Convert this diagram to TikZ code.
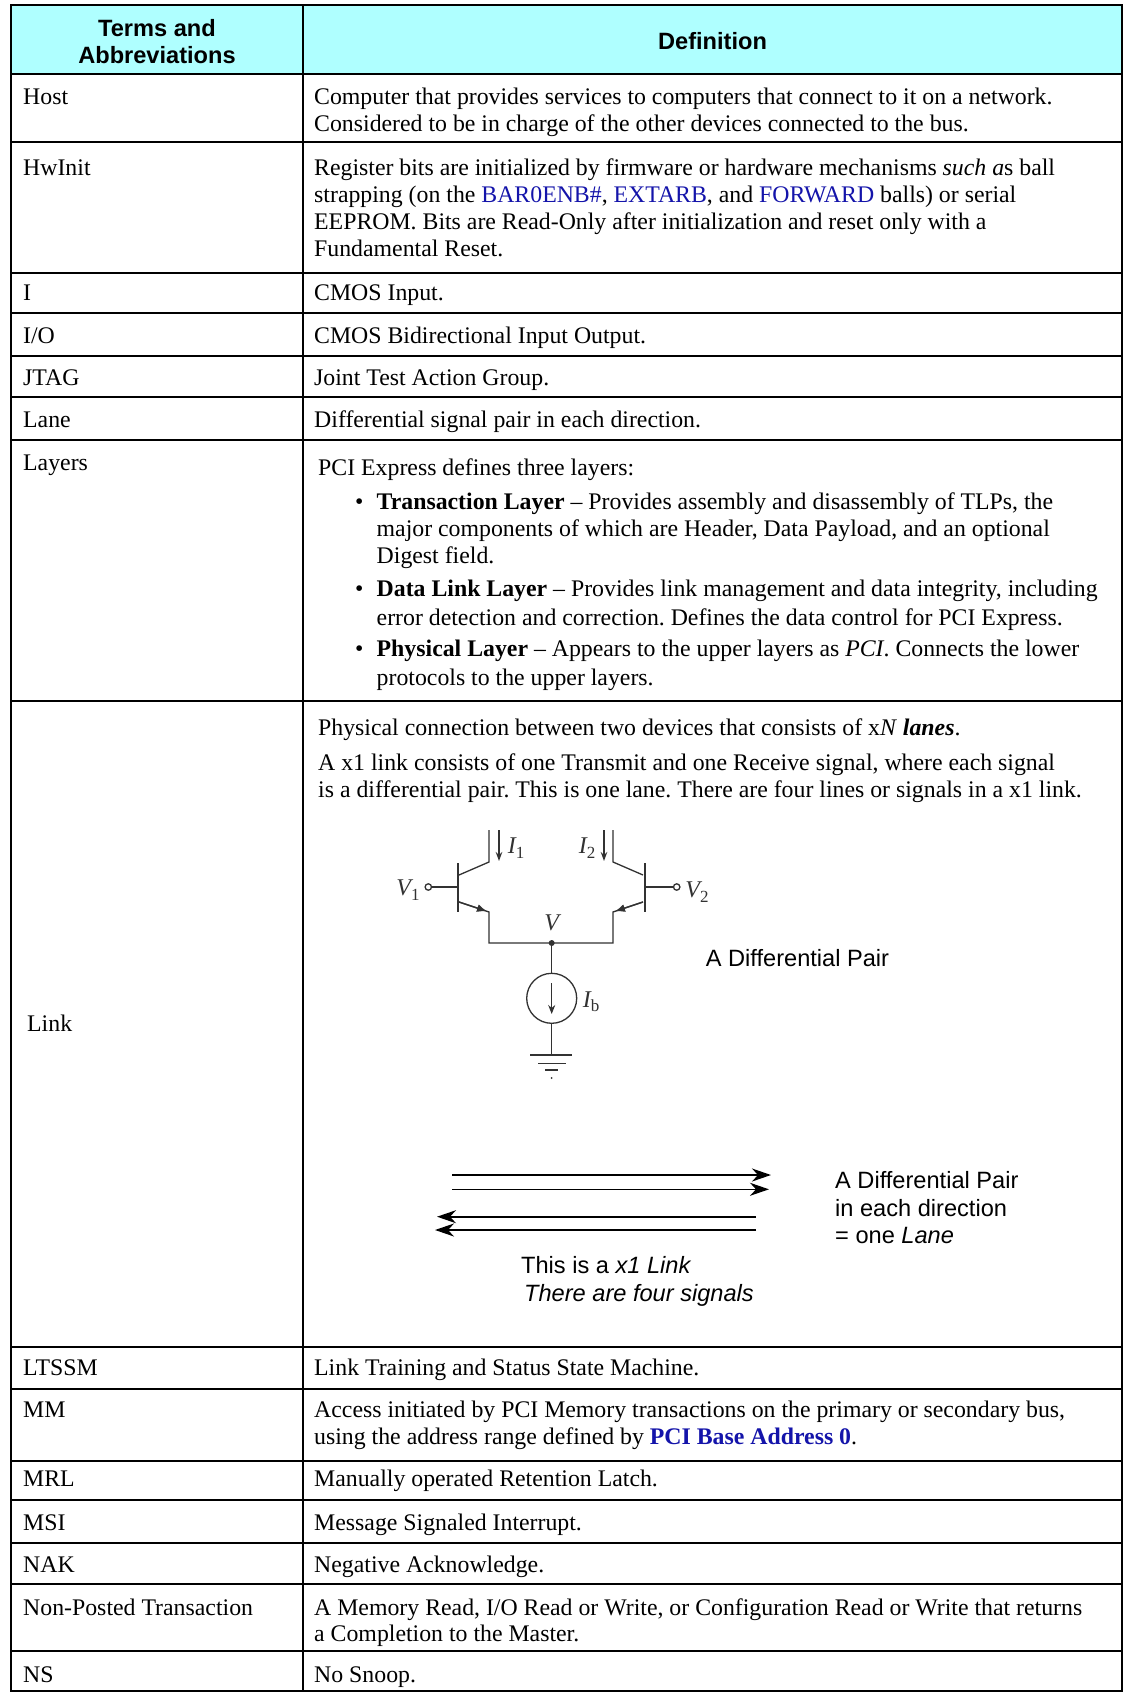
\documentclass[tikz,border=0pt]{standalone}
\usepackage{fontspec}
\setmainfont{Liberation Serif}
\setsansfont{Liberation Sans}
\usetikzlibrary{arrows.meta}
\definecolor{hdr}{RGB}{175,255,255}
\definecolor{lnk}{RGB}{20,20,170}
\definecolor{cir}{RGB}{50,50,50}
\newcommand{\bodyfont}{\frenchspacing\fontsize{23.8}{27}\selectfont}
\newcommand{\hdrfont}{\sffamily\bfseries\fontsize{23.6}{27}\selectfont}
\newcommand{\lblfont}{\frenchspacing\sffamily\fontsize{23.6}{27}\selectfont}
\newcommand{\lowsub}[1]{\raisebox{-0.18em}{\upshape\fontsize{17}{17}\selectfont #1}}
\begin{document}
\frenchspacing
\begin{tikzpicture}[x=1pt,y=-1pt,
  txt/.style={anchor=base west, inner sep=0pt, font=\bodyfont, yshift=-2.2pt},
  hd/.style={anchor=base, inner sep=0pt, font=\hdrfont, yshift=-1.5pt},
  lbl/.style={anchor=base west, inner sep=0pt, font=\lblfont, yshift=-2pt},
  gridline/.style={line width=1.3pt, black},
  wire/.style={line width=1.3pt, cir},
  bar/.style={line width=2.2pt, cir},
  sig/.style={line width=1.6pt, black, -{Stealth[length=19pt,width=13pt,inset=6pt]}},
  cl/.style={inner sep=0pt, font=\fontsize{24}{26}\selectfont\itshape, text=cir}]
\useasboundingbox (0,0) rectangle (1123,1692);
\fill[white] (0,0) rectangle (1123,1692);
% header
\fill[hdr] (11,5) rectangle (1122,74);
% grid
\draw[gridline] (11,5) rectangle (1122,1691);
\draw[gridline] (303,5) -- (303,1691);
\foreach \yy in {74,142,273,313,356,397,440,701,1347,1389,1461,1500,1543,1584,1651}
  \draw[gridline] (11,\yy) -- (1122,\yy);
% header text
\node[hd] (h1) at (157,34.5) {Terms and};
\node[hd] (h2) at (157,61.5) {Abbreviations};
\node[hd] (h3) at (712.5,47.5) {Definition};
% Host
\node[txt] (a1) at (23,102.5) {Host};
\node[txt] (b1) at (314,102.5) {Computer that provides services to computers that connect to it on a network.};
\node[txt] (b2) at (314,129.5) {Considered to be in charge of the other devices connected to the bus.};
% HwInit
\node[txt] (a2) at (23,173.7) {HwInit};
\node[txt] (b3) at (314,173.7) {Register bits are initialized by firmware or hardware mechanisms \textit{such a}s ball};
\node[txt] (b4) at (314,200.7) {strapping (on the \textcolor{lnk}{BAR0ENB\#}, \textcolor{lnk}{EXTARB}, and \textcolor{lnk}{FORWARD} balls) or serial};
\node[txt] (b5) at (314,227.7) {EEPROM. Bits are Read-Only after initialization and reset only with a};
\node[txt] (b6) at (314,254.7) {Fundamental Reset.};
% I, I/O, JTAG, Lane
\node[txt] (a3) at (23,297.8) {I};
\node[txt] (b7) at (314,297.8) {CMOS Input.};
\node[txt] (a4) at (23,341) {I/O};
\node[txt] (b8) at (314,341) {CMOS Bidirectional Input Output.};
\node[txt] (a5) at (23,383) {JTAG};
\node[txt] (b9) at (314,383) {Joint Test Action Group.};
\node[txt] (a6) at (23,425) {Lane};
\node[txt] (b10) at (314,425) {Differential signal pair in each direction.};
% Layers
\node[txt] (a7) at (23,468.3) {Layers};
\node[txt] (c1) at (318,473.7) {PCI Express defines three layers:};
\node[txt] (d1) at (355,507) {•};
\node[txt] (d2) at (355,594.5) {•};
\node[txt] (d3) at (355,654) {•};
\node[txt] (c2) at (376.5,507) {\textbf{Transaction Layer} – Provides assembly and disassembly of TLPs, the};
\node[txt] (c3) at (376.5,534) {major components of which are Header, Data Payload, and an optional};
\node[txt] (c4) at (376.5,561) {Digest field.};
\node[txt] (c5) at (376.5,594.5) {\textbf{Data Link Layer} – Provides link management and data integrity, including};
\node[txt] (c6) at (376.5,623.7) {error detection and correction. Defines the data control for PCI Express.};
\node[txt] (c7) at (376.5,654) {\textbf{Physical Layer} – Appears to the upper layers as \textit{PCI}. Connects the lower};
\node[txt] (c8) at (376.5,683) {protocols to the upper layers.};
% Link
\node[txt] (a8) at (27,1029.4) {Link};
\node[txt] (e1) at (318,733.7) {Physical connection between two devices that consists of x\textit{N} \textbf{\textit{lanes}}.};
\node[txt] (e2) at (318,768) {A x1 link consists of one Transmit and one Receive signal, where each signal};
\node[txt] (e3) at (318,795) {is a differential pair. This is one lane. There are four lines or signals in a x1 link.};
% circuit
\draw[wire] (431.3,887) -- (457.7,887);
\draw[wire, fill=white] (428.3,887) circle[radius=3.2];
\draw[bar] (457.7,863) -- (457.7,912);
\draw[wire] (459,875) -- (489,862) -- (489,830);
\draw[wire] (459,902) -- (489,912) -- (489,943) -- (613,943) -- (613,912) -- (643,902);
\draw[wire, -{Latex[length=10pt,width=8pt]}] (459,902) -- (487,911.3);
\draw[wire, -{Latex[length=10pt,width=8pt]}] (643,902) -- (615,911.3);
\draw[wire] (613,830) -- (613,862) -- (643,875);
\draw[bar] (645,863) -- (645,912);
\draw[wire] (645,887) -- (673.5,887);
\draw[wire, fill=white] (676.7,887) circle[radius=3.2];
\draw[wire, -{Stealth[length=9pt,width=6.5pt]}] (499,830) -- (499,861);
\draw[wire, -{Stealth[length=9pt,width=6.5pt]}] (604,830) -- (604,861);
\fill[cir] (551.7,943) circle[radius=3];
\draw[wire] (551.7,943) -- (551.7,973.3);
\draw[wire] (551.7,998.3) circle[radius=25];
\draw[wire, -{Stealth[length=9pt,width=7pt]}] (551.7,983) -- (551.7,1014);
\draw[wire] (551.7,1023.3) -- (551.7,1055);
\draw[wire] (530,1055) -- (572,1055);
\draw[wire] (538,1063.3) -- (566,1063.3);
\draw[wire] (545,1070) -- (558,1070);
\fill[cir] (551.7,1078) circle[radius=1];
\node[cl] (v1) at (408,890) {V\lowsub{1}};
\node[cl] (v2) at (697,892) {V\lowsub{2}};
\node[cl] (i1) at (516,848) {I\lowsub{1}};
\node[cl] (i2) at (587,848) {I\lowsub{2}};
\node[cl] (vv) at (551.7,923) {V};
\node[cl] (ib) at (591,1002) {I\lowsub{b}};
\node[lbl] (p1) at (705.7,964.5) {A Differential Pair};
% signals
\coordinate (s1a) at (452,1175);   \coordinate (s1b) at (771,1175);
\coordinate (s2a) at (452,1189.3); \coordinate (s2b) at (769,1189.3);
\coordinate (s3a) at (756,1216.7); \coordinate (s3b) at (437,1216.7);
\coordinate (s4a) at (756,1230);   \coordinate (s4b) at (435,1230);
\draw[sig] (s1a) -- (s1b);
\draw[sig] (s2a) -- (s2b);
\draw[sig] (s3a) -- (s3b);
\draw[sig] (s4a) -- (s4b);
\node[lbl] (q1) at (835,1186.7) {A Differential Pair};
\node[lbl] (q2) at (835,1214) {in each direction};
\node[lbl] (q3) at (835,1241.7) {= one \textit{Lane}};
\node[lbl] (q4) at (521,1271.7) {This is a \textit{x1 Link}};
\node[lbl] (q5) at (524,1299.3) {\textit{There are four signals}};
% LTSSM and later
\node[txt] (a9) at (23,1373.6) {LTSSM};
\node[txt] (f1) at (314,1373.6) {Link Training and Status State Machine.};
\node[txt] (a10) at (23,1415.7) {MM};
\node[txt] (f2) at (314,1415.7) {Access initiated by PCI Memory transactions on the primary or secondary bus,};
\node[txt] (f3) at (314,1442.6) {using the address range defined by \textcolor{lnk}{\textbf{PCI Base Address 0}}.};
\node[txt] (a11) at (23,1484.7) {MRL};
\node[txt] (f4) at (314,1484.7) {Manually operated Retention Latch.};
\node[txt] (a12) at (23,1528) {MSI};
\node[txt] (f5) at (314,1528) {Message Signaled Interrupt.};
\node[txt] (a13) at (23,1570) {NAK};
\node[txt] (f6) at (314,1570) {Negative Acknowledge.};
\node[txt] (a14) at (23,1613) {Non-Posted Transaction};
\node[txt] (f7) at (314,1613) {A Memory Read, I/O Read or Write, or Configuration Read or Write that returns};
\node[txt] (f8) at (314,1639) {a Completion to the Master.};
\node[txt] (a15) at (23,1680) {NS};
\node[txt] (f9) at (314,1680) {No Snoop.};
\end{tikzpicture}
\end{document}
